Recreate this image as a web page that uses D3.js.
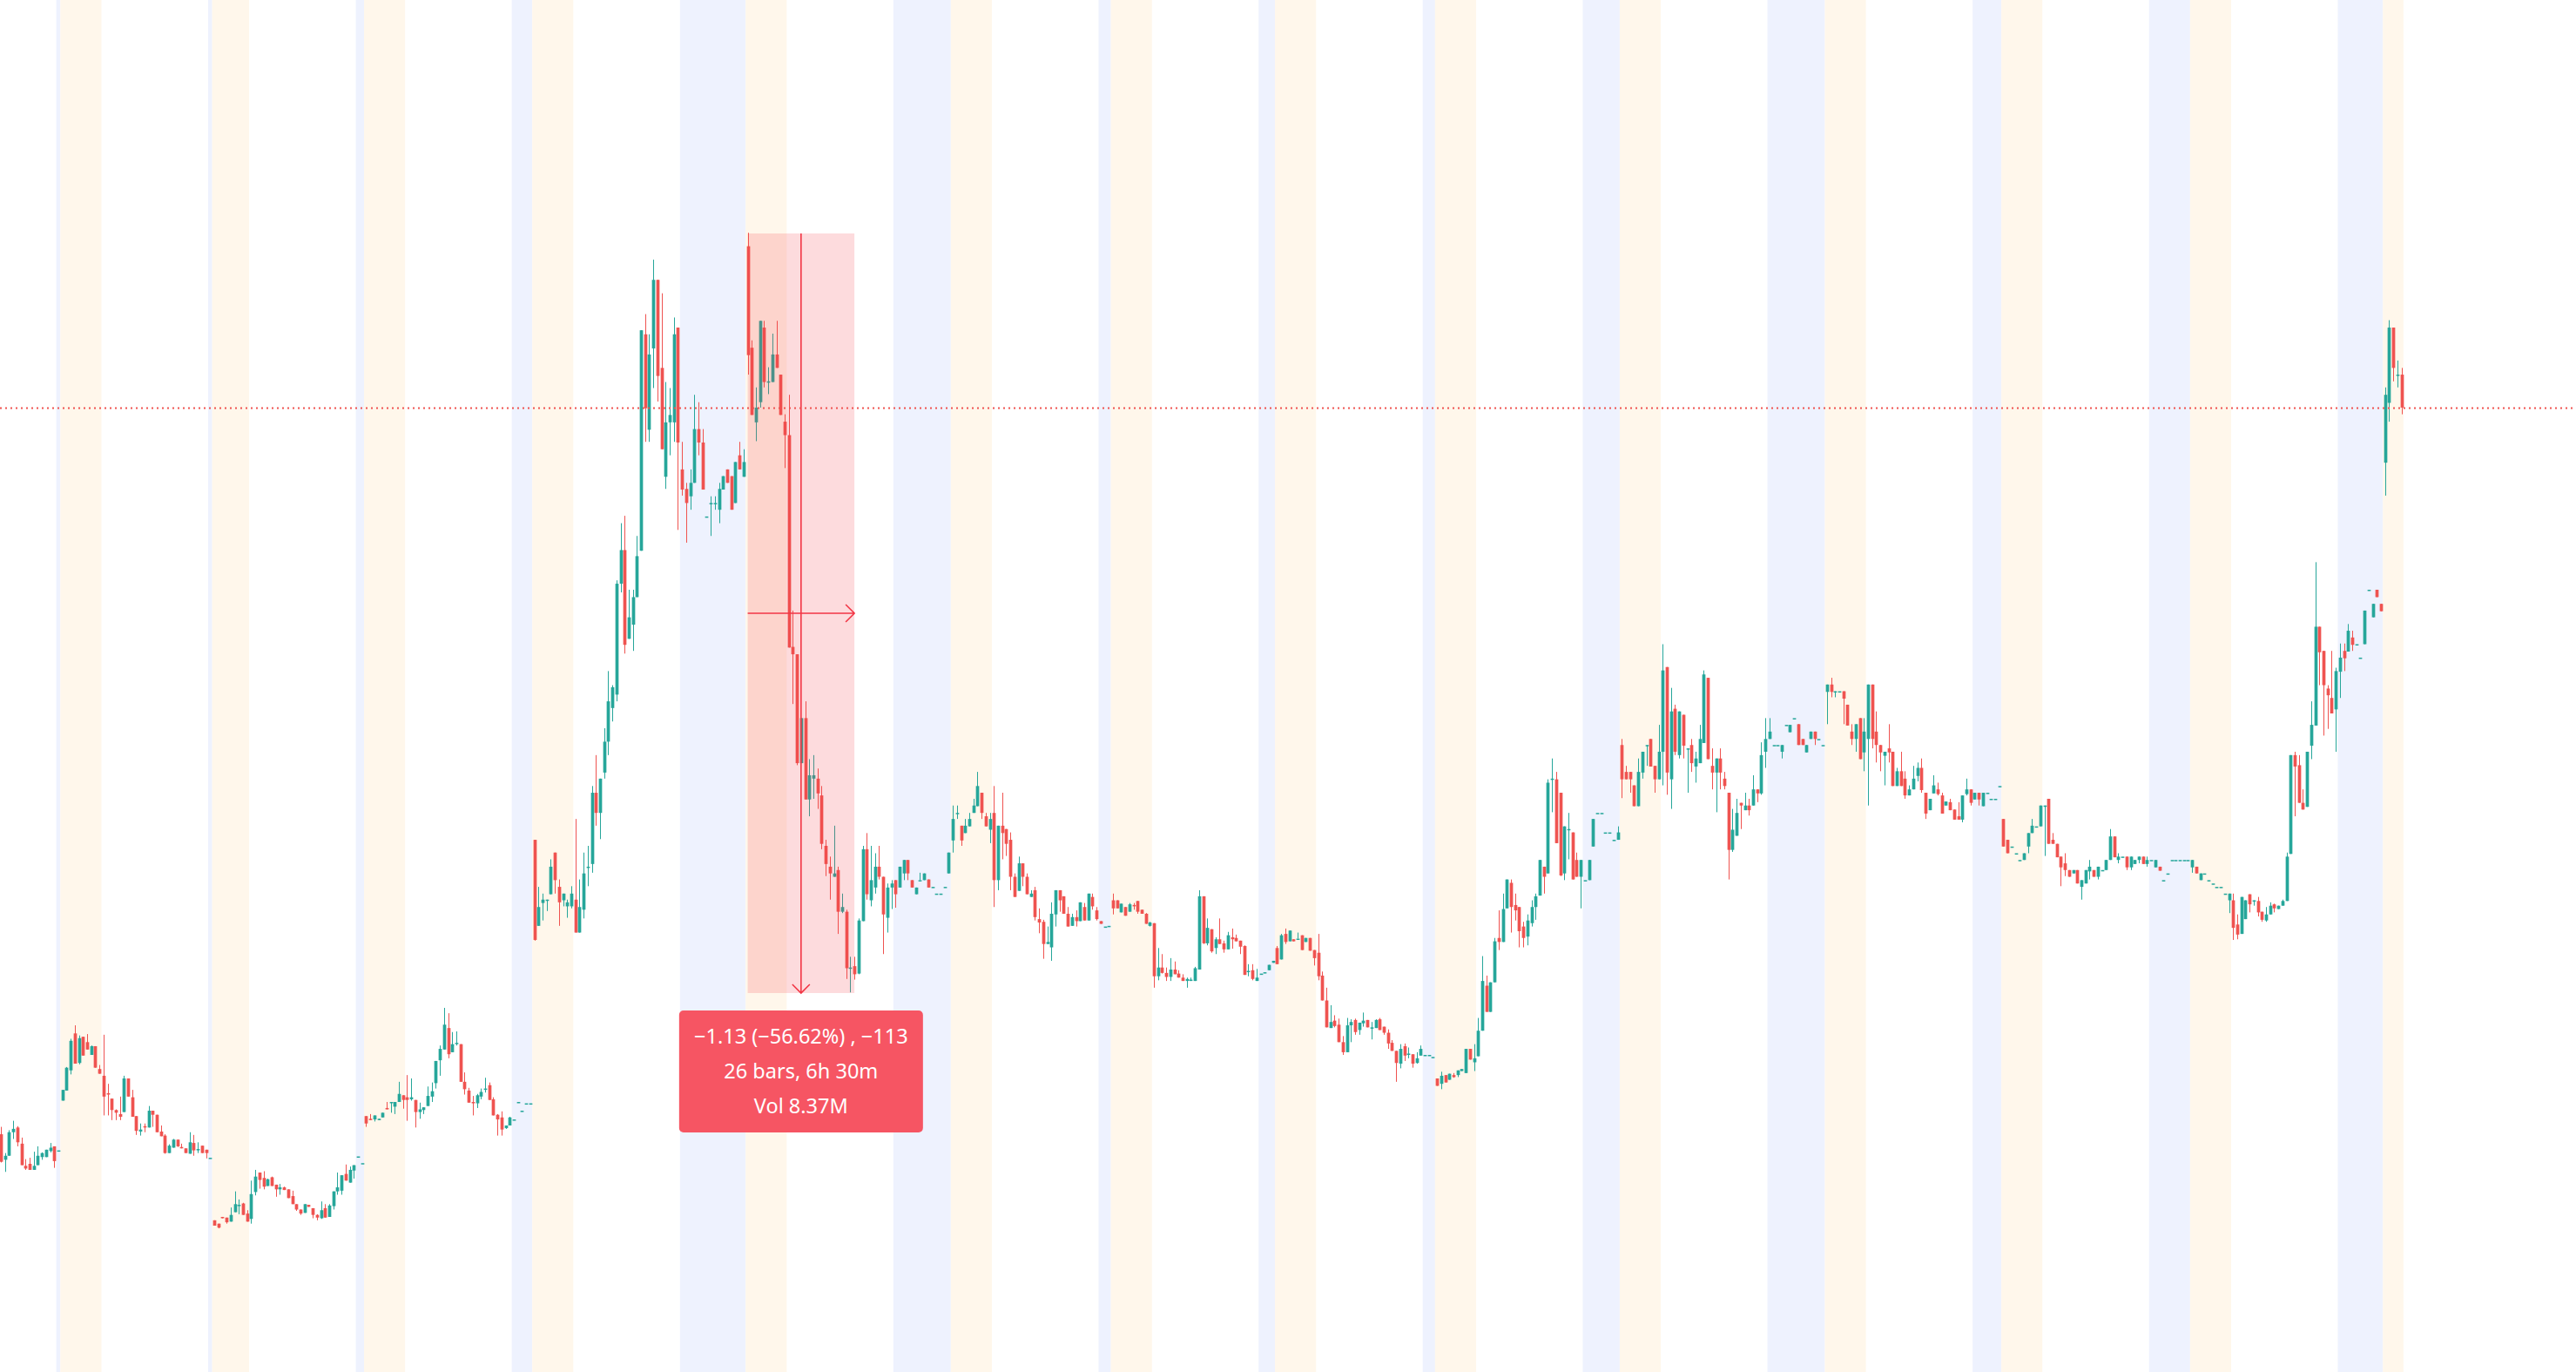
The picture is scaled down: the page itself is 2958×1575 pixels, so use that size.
<!DOCTYPE html>
<html>
<head>
<meta charset="utf-8">
<script src="https://cdn.jsdelivr.net/npm/d3@7/dist/d3.min.js"></script>
<style>
  html, body { margin: 0; padding: 0; background: #ffffff; overflow: hidden; }
  svg { display: block; }
</style>
</head>
<body>
<svg id="chart"></svg>
<script>
// 15 minute bars, price in cents, each bar is [open, high, low, close]
// a day is: pre-market bars, regular session bars, post-market bars
var preCounts  = [0, 10, 9, 10, 10, 10, 10, 10, 10, 10, 10, 10, 10, 10, 5];
var regCounts  = [14, 26, 26, 26, 26, 26, 26, 26, 26, 26, 26, 26, 26, 26, 0];
var postCounts = [1, 1, 2, 5, 16, 14, 3, 4, 3, 9, 14, 7, 10, 11, 0];

var day01 = [
  [65.6,66.7,61.4,61.5],[61.8,62.8,60.0,62.4],[62.4,66.2,62.4,65.9],[65.9,67.6,64.9,66.4],
  [66.6,66.8,63.8,64.4],[64.2,65.1,61.0,61.0],[60.9,61.9,60.3,60.5],[61.2,62.1,60.3,60.3],
  [60.3,63.0,60.3,60.9],[61.0,63.8,61.0,62.4],[62.2,62.9,61.8,62.8],[62.2,63.3,62.2,63.3],
  [63.1,64.3,62.9,63.6],[63.8,63.8,60.6,61.6],
  [63.2,63.2,63.2,63.2]
];
var day02 = [
  [70.6,72.2,70.6,72.2],[72.1,75.6,72.1,75.5],[75.1,79.8,74.5,79.5],[80.6,81.8,76.1,76.1],
  [76.2,80.3,76.0,79.9],[80.1,80.1,77.3,77.3],[79.3,80.5,78.2,78.2],[77.4,78.8,77.4,78.7],
  [78.7,78.7,75.5,75.5],[75.3,75.9,74.6,74.6],
  [74.3,80.4,68.4,71.2],[71.7,73.1,68.4,71.5],[70.9,70.9,67.7,69.2],[69.2,69.3,67.7,68.8],
  [68.6,71.2,67.7,68.2],[68.9,74.3,68.9,73.9],[73.9,73.9,71.2,71.2],[71.1,72.2,68.2,68.2],
  [68.3,68.3,65.5,66.1],[66.0,67.2,65.4,66.3],[66.8,67.2,65.9,66.6],[66.6,69.8,66.6,69.1],
  [69.1,69.1,66.7,68.5],[68.5,68.5,65.9,65.9],[66.0,66.9,65.3,65.3],[65.4,65.6,62.7,62.8],
  [62.8,64.1,62.8,63.9],[63.6,64.9,63.6,64.8],[64.8,64.8,63.7,63.8],[63.7,64.2,63.5,63.5],
  [63.5,63.5,62.8,62.8],[62.7,65.9,62.7,64.4],[64.3,65.5,62.4,63.2],[63.2,64.4,62.8,63.4],
  [63.9,63.9,62.8,62.8],[63.3,63.3,62.0,62.8],
  [62.1,62.1,62.1,62.1]
];
var day03 = [
  [52.8,52.8,52.0,52.0],[52.3,52.3,51.6,51.7],[53.3,53.3,53.1,53.1],[53.2,53.2,52.3,52.5],
  [52.6,54.7,52.6,53.6],[54.0,57.1,54.0,55.2],[55.0,55.9,53.7,55.1],[55.3,55.4,53.6,53.6],
  [53.8,54.3,52.6,52.6],
  [53.0,58.7,52.3,56.7],[57.0,60.3,56.5,59.3],[59.9,59.9,57.5,58.8],[59.1,60.1,57.4,57.8],
  [57.9,59.0,57.9,58.9],[59.2,59.3,57.9,57.9],[58.1,58.1,56.3,57.4],[57.4,58.2,56.6,57.7],
  [57.7,57.8,57.3,57.3],[57.4,57.4,56.1,56.1],[56.4,57.2,55.2,55.2],[55.2,55.2,54.2,54.4],
  [54.4,54.4,53.6,53.8],[53.9,55.2,53.9,55.2],[55.1,55.1,54.8,54.8],[54.6,54.6,53.1,53.6],
  [53.6,53.7,52.8,53.2],[53.1,55.6,53.0,54.3],[54.6,55.2,53.2,53.2],[53.3,55.2,53.3,55.0],
  [54.9,57.1,54.4,57.1],[57.1,59.9,56.6,57.7],[57.2,59.5,56.6,59.5],[59.7,61.1,58.7,58.7],
  [58.4,60.8,58.4,60.3],[60.2,61.0,59.0,61.0],
  [62.3,62.3,62.3,62.3],[61.3,61.3,61.3,61.3]
];
var day04 = [
  [68.3,68.3,66.7,67.2],[67.9,68.6,67.7,67.7],[67.8,68.4,67.5,68.4],[67.7,67.9,67.7,67.9],
  [68.1,68.8,68.1,68.8],[69.5,70.4,69.3,69.3],[70.3,70.4,68.8,70.4],[69.7,70.4,68.6,70.4],
  [70.4,73.4,70.4,71.6],[71.4,71.4,69.4,70.7],
  [71.1,74.4,67.6,70.7],[70.8,73.9,70.6,71.1],[70.7,70.7,66.6,68.9],[68.9,70.3,67.9,69.3],
  [69.2,69.6,68.6,69.6],[69.8,72.7,69.8,71.3],[71.2,73.3,70.4,72.0],[73.2,76.5,72.4,76.5],
  [76.6,78.8,74.3,78.3],[78.2,84.4,78.2,81.9],[81.4,83.6,76.9,77.5],[77.8,80.8,77.8,79.0],
  [79.1,80.9,78.8,79.2],[79.0,79.0,73.4,73.4],[73.4,74.8,71.5,72.3],[72.1,72.5,70.3,70.3],
  [70.4,71.3,68.4,70.2],[70.2,71.6,69.5,71.4],[71.2,72.4,70.8,71.9],[72.2,74.0,71.8,72.4],
  [72.9,73.3,70.7,70.7],[70.8,71.1,68.4,68.4],[68.5,68.6,65.4,67.8],[68.1,69.0,65.4,66.3],
  [66.5,66.9,66.4,66.9],[66.9,68.2,66.9,68.1],
  [67.8,67.8,67.8,67.8],[70.4,70.4,70.4,70.4],[69.1,69.1,69.1,69.1],[70.2,70.2,70.2,70.2],
  [70.2,70.2,70.2,70.2]
];
var day05 = [
  [109.4,109.4,94.4,94.5],[96.6,102.4,96.6,99.4],[100.0,101.4,97.4,100.5],[100.4,100.5,98.8,100.5],
  [101.3,106.5,101.3,105.4],[107.5,107.5,101.4,103.4],[102.4,103.5,96.6,100.1],[100.4,101.4,99.5,101.4],
  [99.5,100.5,97.8,100.1],[99.5,102.5,99.2,101.4],
  [100.5,112.5,95.6,95.6],[95.6,103.5,95.6,99.4],[99.0,107.5,97.7,104.4],[105.3,108.5,102.5,105.4],
  [105.8,117.4,104.5,116.4],[116.4,122.0,111.5,113.4],[113.4,118.5,109.5,118.5],[119.4,126.0,118.5,124.0],
  [124.0,134.5,122.0,130.0],[129.0,132.4,127.0,132.1],[131.0,148.0,130.0,147.5],[147.5,156.5,146.2,152.5],
  [152.5,157.6,137.1,138.4],[139.3,146.6,139.3,142.5],[141.4,146.6,137.5,145.5],[145.5,154.6,145.5,151.6],
  [152.4,185.2,152.4,185.2],[184.6,187.6,168.6,173.6],[170.4,184.6,168.6,181.6],[182.5,195.7,176.6,192.7],
  [192.7,192.7,174.6,178.4],[179.6,190.7,167.5,167.5],[163.4,177.5,161.6,171.5],[171.5,176.6,166.6,172.6],
  [171.5,187.1,168.6,184.6],[185.6,185.6,155.5,168.5],
  [164.5,168.6,160.6,161.5],[161.6,162.5,153.6,159.5],[160.5,164.5,158.5,162.5],[162.5,175.6,162.5,170.5],
  [170.5,174.5,166.6,168.5],[168.5,170.5,161.5,161.5],[157.5,157.5,157.5,157.5],[159.4,160.5,154.6,159.5],
  [159.5,160.5,158.5,159.5],[158.5,162.5,156.5,161.6],[161.5,163.5,161.5,163.5],[164.5,164.5,162.5,162.5],
  [163.5,163.5,158.5,158.5],[159.5,165.6,159.5,165.6],[166.6,168.6,164.5,164.5],[163.4,167.5,163.4,165.6]
];
var day06 = [
  [197.7,199.7,178.6,181.5],[182.6,183.7,172.6,172.6],[171.5,176.7,168.7,173.7],[174.5,186.6,173.7,186.6],
  [185.6,186.6,176.7,177.5],[177.5,179.7,175.7,177.6],[177.5,184.7,177.5,181.6],[181.6,186.6,179.6,179.6],
  [178.6,178.6,172.6,172.6],[171.6,172.7,164.7,169.6],
  [169.6,175.6,138.0,138.0],[138.1,143.5,129.6,137.0],[137.0,137.0,120.5,120.8],[120.8,127.5,120.8,127.5],
  [127.5,130.0,115.4,115.4],[115.4,121.4,112.9,119.0],[118.5,122.0,115.5,119.0],[118.5,120.0,114.0,116.3],
  [116.0,117.4,108.0,108.8],[108.5,109.4,104.0,105.8],[105.4,106.9,100.5,104.4],[103.9,111.5,103.9,104.4],
  [104.9,105.4,95.4,98.7],[98.7,101.4,98.5,99.4],[98.7,99.0,88.7,90.3],[90.3,92.0,86.7,90.4],
  [90.6,92.0,88.6,89.4],[89.5,97.7,89.4,97.4],[97.3,108.5,97.3,108.0],[108.0,110.4,100.5,101.3],
  [100.4,108.5,99.5,103.4],[102.3,107.4,101.4,105.4],[105.4,108.5,103.5,103.9],[103.9,103.9,92.4,98.3],
  [97.8,102.9,95.6,102.3],[102.3,103.4,99.1,102.9],
  [103.4,103.4,99.3,101.3],[102.3,105.4,102.3,105.4],[104.4,106.4,103.4,106.4],[106.4,106.4,103.4,104.4],
  [103.4,103.4,102.3,102.3],[101.3,102.3,101.3,102.3],[103.4,104.5,103.4,103.4],[103.4,104.4,103.4,104.4],
  [103.5,103.5,102.3,102.3],[102.4,102.4,102.4,102.4],[101.4,101.4,101.4,101.4],[101.4,101.4,101.4,101.4],
  [102.4,102.4,102.4,102.4],[104.4,107.5,104.4,107.5]
];
var day07 = [
  [109.3,114.5,107.5,112.5],[113.3,114.5,112.5,113.4],[111.5,111.5,108.5,109.3],[110.4,112.5,110.4,111.5],
  [111.4,113.4,111.4,112.5],[113.4,115.5,113.4,114.5],[114.4,119.5,114.4,117.4],[116.4,116.4,112.5,113.4],
  [112.9,113.4,111.4,111.4],[110.9,113.4,108.9,112.5],
  [113.4,117.4,99.4,103.4],[103.4,111.5,101.9,111.5],[111.5,116.4,106.5,110.4],[111.0,111.0,107.0,108.8],
  [109.4,110.5,101.9,103.9],[103.9,104.4,100.9,100.9],[101.8,106.9,101.8,105.9],[105.9,105.9,102.5,103.9],
  [103.9,104.4,101.3,101.3],[100.9,101.9,100.9,101.4],[101.9,102.4,97.4,97.9],[97.6,99.2,95.5,97.1],
  [97.2,97.5,91.7,93.9],[93.9,96.5,93.9,94.2],[93.4,100.1,91.4,98.4],[98.3,101.9,96.5,101.9],
  [101.9,101.9,98.7,100.4],[101.0,101.0,98.4,98.4],[98.4,99.4,96.5,96.5],[96.6,98.4,96.6,97.9],
  [97.9,98.9,96.5,97.3],[97.3,100.1,97.3,100.1],[99.4,100.0,97.4,97.4],[97.4,101.4,97.4,101.4],
  [100.9,101.4,99.0,99.5],[98.9,99.4,97.4,97.6],
  [97.3,97.3,96.9,96.9],[96.5,96.5,96.5,96.5],[96.6,96.6,96.6,96.6]
];
var day08 = [
  [100.4,101.4,98.3,99.2],[100.4,100.4,99.2,99.2],[98.6,99.9,98.6,99.9],[99.4,99.4,98.1,98.1],
  [98.7,100.0,98.7,99.8],[99.7,100.0,99.0,99.6],[100.3,100.3,98.4,98.7],[99.0,99.0,98.4,98.4],
  [98.4,98.5,96.9,96.9],[96.6,97.2,96.5,97.1],
  [97.0,97.0,87.4,89.1],[89.1,93.3,88.5,90.4],[90.4,92.4,89.5,89.6],[89.6,90.4,88.4,89.0],
  [89.0,91.8,88.4,90.1],[90.1,91.3,89.4,89.4],[89.5,90.0,88.9,88.9],[88.9,89.4,88.4,88.4],
  [88.4,88.9,87.4,88.7],[88.5,88.9,88.4,88.6],[88.4,90.5,88.4,90.3],[90.1,101.9,90.1,101.0],
  [101.0,101.0,93.9,94.0],[94.0,97.7,93.7,96.3],[96.1,96.1,92.6,92.8],[93.3,94.9,92.4,94.6],
  [94.6,97.7,93.9,93.9],[94.0,94.4,92.6,93.1],[93.1,95.7,93.1,95.2],[94.9,96.2,93.2,94.6],
  [94.8,95.3,94.3,94.3],[94.4,94.4,92.4,93.5],[93.6,93.7,89.3,89.3],[89.8,90.9,89.1,89.9],
  [90.0,90.9,88.5,88.7],[88.4,90.2,88.4,88.9],
  [89.5,89.5,89.5,89.5],[89.7,89.7,89.7,89.7],[90.0,90.8,90.0,90.8],[91.1,91.4,91.1,91.4]
];
var day09 = [
  [93.3,93.6,90.9,90.9],[91.6,95.4,91.6,95.2],[95.4,96.2,93.9,94.2],[94.3,95.9,94.3,95.9],
  [94.6,94.6,94.3,94.3],[94.7,95.6,94.7,94.7],[95.2,95.2,93.0,93.0],[94.2,94.8,94.2,94.8],
  [94.8,94.8,92.9,92.9],[93.0,93.0,90.7,91.8],
  [92.6,95.4,88.5,89.1],[89.2,89.8,85.5,85.5],[85.5,87.4,81.5,81.5],[81.4,84.8,81.4,82.3],
  [82.5,83.3,81.5,81.7],[81.9,82.8,79.3,79.3],[79.3,80.2,77.4,77.8],[77.8,82.9,77.8,81.8],
  [81.8,82.7,79.3,82.3],[82.6,82.8,80.4,80.8],[81.1,82.2,80.4,82.2],[82.1,83.7,81.6,82.5],
  [82.6,82.6,81.5,81.5],[81.3,82.3,79.7,81.5],[81.4,82.7,81.4,82.6],[82.7,82.9,81.1,81.1],
  [81.6,81.6,80.4,80.7],[80.7,81.2,78.3,79.1],[79.2,79.6,78.0,78.0],[78.0,78.0,73.4,76.2],
  [76.1,79.0,75.4,78.3],[78.7,79.1,76.5,77.3],[77.5,78.5,76.9,77.6],[77.5,77.5,75.5,76.1],
  [76.2,77.8,76.1,76.9],[77.3,78.8,77.3,78.3],
  [77.4,77.4,77.4,77.4],[77.4,77.4,77.4,77.4],[77.1,77.1,77.1,77.1]
];
var day10 = [
  [73.9,73.9,72.8,72.8],[73.1,74.9,72.3,74.3],[74.4,74.4,73.3,73.3],[73.7,74.6,73.7,74.6],
  [74.4,74.7,74.0,74.1],[74.4,75.1,74.1,75.1],[75.0,75.3,75.0,75.3],[74.7,78.3,74.7,78.3],
  [78.3,78.3,76.7,76.7],[76.3,79.0,75.0,76.9],
  [77.2,82.9,77.2,81.0],[81.0,92.1,81.0,88.4],[87.7,89.2,83.8,83.8],[83.8,88.2,83.8,88.2],
  [88.2,94.8,88.2,94.3],[94.8,98.9,93.0,94.2],[94.2,101.4,94.2,99.1],[99.2,103.5,99.2,103.5],
  [103.0,103.5,95.6,99.4],[99.7,101.4,97.4,98.9],[99.4,99.4,93.4,95.8],[96.5,97.2,93.4,94.8],
  [95.0,98.3,93.7,97.4],[97.0,100.4,96.5,99.4],[99.4,101.4,97.5,101.0],[101.1,106.4,101.1,106.4],
  [105.4,105.4,101.4,103.9],[104.4,118.4,104.4,117.9],[118.4,121.5,113.5,118.5],[118.4,119.5,108.9,108.9],
  [116.4,116.4,104.0,104.1],[104.4,111.4,103.4,111.4],[110.9,113.4,106.5,111.0],[110.5,110.5,103.5,103.5],
  [106.4,107.5,103.9,103.9],[103.9,106.4,99.2,106.4],
  [103.4,103.4,103.4,103.4],[103.4,106.4,103.4,106.4],[108.4,112.5,108.4,112.5],[113.4,113.4,113.4,113.4],
  [113.4,113.4,113.4,113.4],[110.5,110.5,110.5,110.5],[110.5,110.5,110.5,110.5],[109.4,109.4,109.4,109.4],
  [109.4,111.4,109.4,110.5]
];
var day11 = [
  [123.5,124.4,115.6,118.4],[119.5,120.4,118.4,118.4],[119.5,119.5,116.4,118.4],[117.5,117.5,114.4,114.4],
  [114.4,121.5,114.4,119.5],[119.4,122.5,118.5,122.5],[123.4,123.5,120.4,123.5],[124.4,124.4,120.3,120.3],
  [120.4,120.4,116.4,118.4],[118.4,126.5,118.4,122.5],
  [122.5,138.5,117.5,134.6],[135.1,135.1,116.1,119.4],[118.4,132.0,114.0,128.5],[128.9,129.5,122.0,122.5],
  [122.0,128.5,121.5,128.5],[128.0,128.0,121.5,123.4],[123.0,123.0,116.4,123.0],[123.5,124.4,119.5,120.8],
  [120.3,122.5,117.9,121.5],[120.8,126.5,120.8,124.4],[123.8,134.6,123.8,134.0],[133.5,133.5,121.4,121.4],
  [120.4,123.0,116.9,119.4],[119.4,121.5,113.5,121.5],[121.5,123.0,116.9,119.4],[118.5,119.5,116.9,117.4],
  [116.4,116.4,103.5,107.9],[107.9,114.0,107.6,110.9],[110.0,115.5,110.0,113.4],[114.9,114.9,111.0,114.5],
  [113.8,116.4,113.8,114.5],[114.5,115.5,113.0,113.8],[114.5,119.0,114.5,116.9],[116.9,116.9,115.0,116.3],
  [116.3,123.9,116.1,122.0],[122.5,127.5,120.1,124.4],
  [124.4,127.5,124.4,125.5],[123.5,123.5,123.5,123.5],[123.5,123.5,123.5,123.5],[122.5,123.5,121.5,123.5],
  [126.5,126.5,126.5,126.5],[125.4,126.5,125.4,126.5],[127.5,127.5,127.5,127.5],[126.6,126.6,123.5,123.5],
  [124.4,124.4,123.5,123.5],[122.4,123.5,122.4,123.5],[124.4,125.5,124.4,125.5],[125.5,125.5,123.5,124.4],
  [124.4,124.4,124.4,124.4],[123.5,123.5,123.5,123.5]
];
var day12 = [
  [131.4,132.5,126.6,132.5],[132.5,133.5,130.6,131.4],[131.5,131.5,130.6,131.5],[131.5,131.5,131.5,131.5],
  [131.5,131.5,126.6,130.4],[129.5,129.5,126.4,126.4],[125.5,126.6,123.5,124.4],[124.4,126.6,122.5,126.6],
  [127.5,127.5,121.4,121.4],[122.4,127.5,119.6,125.5],
  [124.4,132.5,114.5,132.5],[132.5,132.5,123.0,124.4],[125.5,128.5,120.9,123.5],[123.5,123.5,119.6,122.4],
  [121.9,122.5,117.5,122.5],[123.0,126.6,120.9,122.4],[122.5,122.5,117.4,117.4],[117.4,120.1,117.4,119.6],
  [119.6,122.5,117.4,117.4],[118.5,119.6,115.5,116.0],[116.0,117.5,116.0,116.9],[116.9,120.4,116.9,118.5],
  [118.9,120.9,118.1,120.1],[120.1,121.5,116.4,116.8],[116.4,116.4,112.5,113.3],[113.8,115.5,113.8,115.5],
  [116.3,119.0,116.3,117.5],[116.9,117.9,116.0,116.2],[116.0,116.4,113.3,113.3],[114.5,115.1,114.5,115.1],
  [115.0,115.5,113.8,113.8],[113.9,113.9,112.4,112.4],[112.9,115.0,112.4,112.4],[112.4,116.0,112.0,116.0],
  [116.2,118.5,116.0,116.9],[116.9,116.9,114.5,114.9],
  [115.4,116.4,115.4,116.4],[116.4,116.4,114.5,115.4],[114.4,116.4,114.4,116.4],[116.4,116.4,116.4,116.4],
  [115.5,115.5,115.5,115.5],[115.5,115.5,115.5,115.5],[117.4,117.4,117.4,117.4]
];
var day13 = [
  [112.5,112.5,108.4,108.4],[109.4,109.4,107.4,107.4],[108.4,108.4,108.4,108.4],[107.4,107.4,107.4,107.4],
  [106.4,106.4,106.4,106.4],[106.4,107.4,106.4,107.4],[108.4,110.4,107.4,110.4],[110.4,112.5,110.4,111.5],
  [111.4,111.4,111.4,111.4],[111.4,114.5,111.4,114.5],
  [114.4,114.5,107.0,114.5],[115.5,115.5,108.8,108.8],[109.4,110.4,108.8,108.8],[108.8,108.8,106.8,106.8],
  [106.9,106.9,102.5,105.3],[105.9,107.4,104.0,104.9],[104.9,104.9,103.9,103.9],[104.4,104.9,104.4,104.9],
  [104.9,104.9,102.9,102.9],[102.4,103.4,100.5,103.4],[102.9,104.9,102.9,104.9],[104.7,106.4,103.5,105.4],
  [104.9,104.9,103.9,103.9],[103.9,105.4,103.5,105.4],[104.9,104.9,104.9,104.9],[104.9,106.4,104.9,106.4],
  [106.4,111.0,106.4,109.9],[109.9,109.9,106.8,106.8],[106.4,107.4,105.9,106.9],[106.9,106.9,106.9,106.9],
  [106.9,106.9,104.9,105.3],[105.3,106.9,104.9,106.9],[105.8,106.4,105.8,106.4],[106.4,106.9,105.9,106.9],
  [106.9,106.9,105.8,105.8],[105.8,106.9,105.4,106.4],
  [106.4,106.4,106.4,106.4],[105.3,106.4,105.3,106.4],[105.4,105.4,104.8,104.8],[103.4,103.4,103.4,103.4],
  [104.4,104.4,104.4,104.4],[106.4,106.4,106.4,106.4],[106.4,106.4,106.4,106.4],[106.4,106.4,106.4,106.4],
  [106.4,106.4,106.4,106.4],[106.4,106.4,106.4,106.4]
];
var day14 = [
  [105.3,106.4,104.5,106.4],[105.4,105.4,104.4,104.4],[103.4,104.4,103.4,104.4],[104.4,104.4,104.4,104.4],
  [103.4,103.4,103.4,103.4],[102.9,102.9,102.9,102.9],[102.4,102.4,102.4,102.4],[102.4,102.4,102.4,102.4],
  [101.4,101.4,101.4,101.4],[100.4,101.4,98.5,101.4],
  [100.4,101.4,94.5,96.3],[96.8,98.3,94.6,95.3],[95.4,100.9,95.4,100.9],[97.6,100.4,97.6,100.4],
  [101.3,101.3,98.6,99.8],[100.3,100.4,99.6,100.4],[100.3,100.9,98.0,98.6],[98.7,98.7,97.2,97.5],
  [97.4,99.4,97.2,98.3],[98.3,100.1,98.3,99.6],[99.8,99.9,98.6,99.2],[99.1,99.6,99.1,99.6],
  [99.6,100.5,99.6,100.3],[100.3,107.5,100.3,106.9],[107.3,122.0,107.3,122.0],[122.0,122.5,112.9,120.3],
  [120.5,122.0,114.9,114.9],[114.9,116.9,113.9,113.9],[114.3,122.5,114.3,122.5],[123.4,130.0,121.4,126.5],
  [126.4,150.7,126.4,141.1],[141.1,141.1,132.4,137.3],[137.5,137.5,124.9,132.4],[131.9,132.4,125.9,130.9],
  [130.5,137.5,128.2,128.2],[128.8,135.0,122.5,134.5],
  [134.4,138.6,130.5,136.5],[137.5,138.6,134.5,136.4],[137.4,141.5,137.4,140.5],[139.5,140.5,137.5,138.4],
  [138.5,138.5,138.5,138.5],[136.5,136.5,136.5,136.5],[138.5,143.5,138.5,143.5],[146.6,146.6,146.6,146.6],
  [142.5,144.5,142.5,144.5],[146.6,146.6,145.5,145.5],[144.5,144.5,143.4,143.4]
];
var day15 = [
  [165.5,176.7,160.6,175.6],[174.4,186.7,171.6,185.6],[185.6,185.6,177.6,179.6],[178.5,180.7,176.7,178.6],
  [178.6,179.6,172.7,173.7]
];
var days = [day01, day02, day03, day04, day05, day06, day07, day08, day09, day10,
            day11, day12, day13, day14, day15];

// price range drawn with the measure tool (bar index, price in cents)
var measureStart = { bar: 182, price: 199.6 };
var measureEnd = { bar: 208, price: 86.6 };
var measureLines = ["\u22121.13 (\u221256.62%) , \u2212113", "26 bars, 6h 30m", "Vol 8.37M"];

function run() {
  var width = 2958, height = 1575;
  var upColor = "#26a69a", downColor = "#ef5350";

  var bars = [];
  days.forEach(function (day, d) {
    if (day.length !== preCounts[d] + regCounts[d] + postCounts[d]) {
      console.warn("day " + (d + 1) + " has " + day.length + " bars");
    }
    day.forEach(function (b, k) {
      var s = k < preCounts[d] ? "pre" : (k < preCounts[d] + regCounts[d] ? "reg" : "post");
      bars.push({ i: bars.length, o: b[0], h: Math.max(b[1], b[0], b[3]), l: Math.min(b[2], b[0], b[3]), c: b[3], s: s });
    });
  });

  var step = 4.712;
  var x = d3.scaleLinear().domain([0, bars.length - 1]).range([1, 1 + (bars.length - 1) * step]);
  var y = d3.scaleLinear().domain([30.23, 234.33]).range([height, 0]);

  var svg = d3.select("#chart")
    .attr("width", width)
    .attr("height", height)
    .style("background", "#ffffff");

  // extended hours backgrounds
  var runs = [];
  bars.forEach(function (b) {
    var last = runs[runs.length - 1];
    if (last && last.s === b.s && last.end === b.i - 1) { last.end = b.i; }
    else { runs.push({ s: b.s, start: b.i, end: b.i }); }
  });
  svg.append("g").selectAll("rect")
    .data(runs.filter(function (r) { return r.s !== "reg"; }))
    .enter().append("rect")
    .attr("x", function (r) { return x(r.start) - step / 2; })
    .attr("width", function (r) { return x(r.end) - x(r.start) + step; })
    .attr("y", 0)
    .attr("height", height)
    .attr("fill", function (r) { return r.s === "pre" ? "#fff7eb" : "#eef2fe"; });

  // candles
  var candles = svg.append("g").selectAll("g")
    .data(bars)
    .enter().append("g")
    .attr("fill", function (b) { return b.c >= b.o ? upColor : downColor; })
    .attr("stroke", function (b) { return b.c >= b.o ? upColor : downColor; });

  candles.append("line")
    .attr("x1", function (b) { return Math.round(x(b.i)) + 0.5; })
    .attr("x2", function (b) { return Math.round(x(b.i)) + 0.5; })
    .attr("y1", function (b) { return y(b.h); })
    .attr("y2", function (b) { return y(b.l); })
    .attr("stroke-width", 1);

  candles.append("rect")
    .attr("x", function (b) { return Math.round(x(b.i)) + 0.5 - 1.85; })
    .attr("width", 3.7)
    .attr("y", function (b) { return y(Math.max(b.o, b.c)); })
    .attr("height", function (b) { return Math.max(1.5, Math.abs(y(b.o) - y(b.c))); })
    .attr("stroke", "none");

  // measure tool
  var mx0 = x(measureStart.bar), mx1 = x(measureEnd.bar);
  var my0 = y(measureStart.price), my1 = y(measureEnd.price);
  var mxm = (mx0 + mx1) / 2, mym = (my0 + my1) / 2;
  var measure = svg.append("g");
  measure.append("rect")
    .attr("x", mx0).attr("y", my0)
    .attr("width", mx1 - mx0).attr("height", my1 - my0)
    .attr("fill", "rgba(242,54,69,0.18)");
  measure.append("path")
    .attr("d", "M" + mxm + "," + my0 + "V" + my1 + "M" + (mxm - 10) + "," + (my1 - 10) + "L" + mxm + "," + my1 + "L" + (mxm + 10) + "," + (my1 - 10))
    .attr("fill", "none").attr("stroke", "#f23645").attr("stroke-width", 1.6);
  measure.append("path")
    .attr("d", "M" + mx0 + "," + mym + "H" + mx1 + "M" + (mx1 - 10) + "," + (mym - 10) + "L" + mx1 + "," + mym + "L" + (mx1 - 10) + "," + (mym + 10))
    .attr("fill", "none").attr("stroke", "#f23645").attr("stroke-width", 1.6);

  // last price line
  var lastClose = bars[bars.length - 1].c;
  svg.append("line")
    .attr("x1", 0).attr("x2", width)
    .attr("y1", Math.round(y(lastClose)) + 0.5).attr("y2", Math.round(y(lastClose)) + 0.5)
    .attr("stroke", downColor)
    .attr("stroke-width", 1.8)
    .attr("stroke-dasharray", "2,4");

  // measure label
  var lw = 280, lh = 140;
  var label = svg.append("g");
  label.append("rect")
    .attr("x", mxm - lw / 2).attr("y", my1 + 20)
    .attr("width", lw).attr("height", lh)
    .attr("rx", 5).attr("ry", 5)
    .attr("fill", "#f65563");
  label.selectAll("text")
    .data(measureLines)
    .enter().append("text")
    .attr("x", mxm)
    .attr("y", function (d, k) { return my1 + 58 + k * 40; })
    .attr("text-anchor", "middle")
    .attr("fill", "#ffffff")
    .style("font-family", "'Noto Sans', 'DejaVu Sans', sans-serif")
    .style("font-size", "23.5px")
    .text(function (d) { return d; });
}

run();
</script>
</body>
</html>
